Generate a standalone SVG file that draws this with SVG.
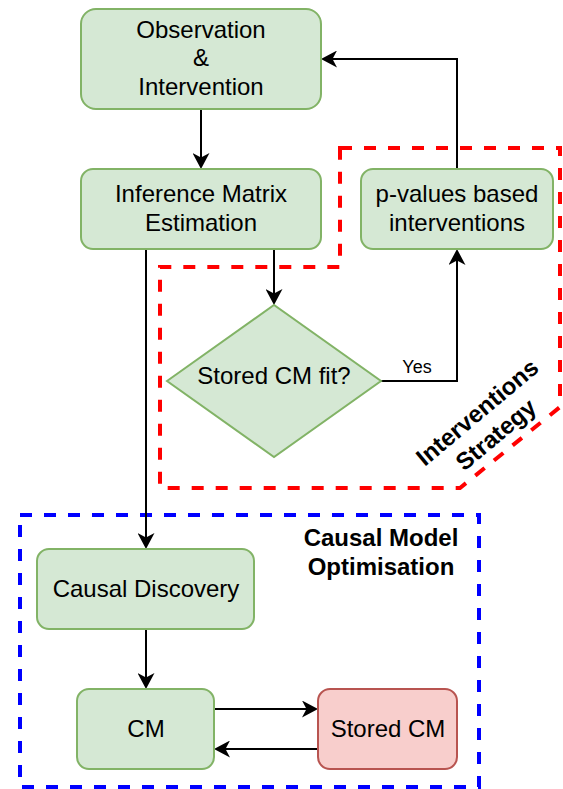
<svg xmlns="http://www.w3.org/2000/svg" width="563" height="789" viewBox="0 0 563 789">
<style>
.node{fill:#d5e8d4;stroke:#82b366;stroke-width:2}
.rednode{fill:#f8cecc;stroke:#b85450;stroke-width:2}
.t{font-family:"Liberation Sans",Arial,sans-serif;font-size:24px;fill:#000;text-anchor:middle}
.b{font-weight:bold}
.lbl{font-family:"Liberation Sans",Arial,sans-serif;font-size:18px;fill:#000;text-anchor:middle}
.edge{fill:none;stroke:#000;stroke-width:2;marker-end:url(#arr)}
.plain{fill:none;stroke:#000;stroke-width:2}
.grp{fill:none;stroke-width:4;stroke-dasharray:12 12}
</style>
<defs>
<marker id="arr" markerUnits="userSpaceOnUse" viewBox="0 0 16 17" markerWidth="16" markerHeight="17" refX="12" refY="8.5" orient="auto">
<path d="M0,0 L16,8.5 L0,17 L4.5,8.5 Z" fill="#000"/>
</marker>
</defs>
<rect width="563" height="789" fill="#fff"/>

<g id="group-interventions">
<path class="grp" stroke="#ff0000" d="M340,148 L560,148 L560,407 L460,488 L160,488 L160,267 L340,267 Z"/>
<g transform="translate(487,424) rotate(-40)">
<text class="t b" x="0" y="-7">Interventions</text>
<text class="t b" x="0" y="22">Strategy</text>
</g>
</g>

<g id="group-optimisation">
<rect class="grp" stroke="#0000ff" x="20" y="515" width="459" height="272"/>
<text class="t b" x="381" y="546">Causal Model</text>
<text class="t b" x="381" y="575">Optimisation</text>
</g>

<g id="connectors">
<path class="edge" d="M201,109 L201,165"/>
<path class="edge" d="M274,249 L274,301"/>
<path class="edge" d="M146,249 L146,545"/>
<path class="edge" d="M146,629 L146,685"/>
<path class="edge" d="M214,709 L314,709"/>
<path class="edge" d="M318,749 L218,749"/>
<path class="edge" d="M381,381 L457,381 L457,253"/>
<text class="lbl" x="417" y="373">Yes</text>
<path class="edge" d="M457,169 L457,59 L325,59"/>
</g>

<g id="obs">
<rect class="node" x="81" y="9" width="240" height="100" rx="15"/>
<text class="t" x="201" y="38">Observation</text>
<text class="t" x="201" y="66">&amp;</text>
<text class="t" x="201" y="95">Intervention</text>
</g>

<g id="inference">
<rect class="node" x="81" y="169" width="240" height="80" rx="12"/>
<text class="t" x="201" y="202">Inference Matrix</text>
<text class="t" x="201" y="231">Estimation</text>
</g>

<g id="pvalues">
<rect class="node" x="361" y="169" width="192" height="80" rx="12"/>
<text class="t" x="457" y="202">p-values based</text>
<text class="t" x="457" y="231">interventions</text>
</g>

<g id="fit">
<polygon class="node" points="167,381 274,305 381,381 274,457"/>
<text class="t" x="274" y="384">Stored CM fit?</text>
</g>

<g id="discovery">
<rect class="node" x="37" y="549" width="217" height="80" rx="12"/>
<text class="t" x="146" y="597">Causal Discovery</text>
</g>

<g id="cm">
<rect class="node" x="77" y="689" width="137" height="80" rx="12"/>
<text class="t" x="146" y="737">CM</text>
</g>

<g id="stored">
<rect class="rednode" x="318" y="689" width="139" height="80" rx="12"/>
<text class="t" x="388" y="737">Stored CM</text>
</g>
</svg>
